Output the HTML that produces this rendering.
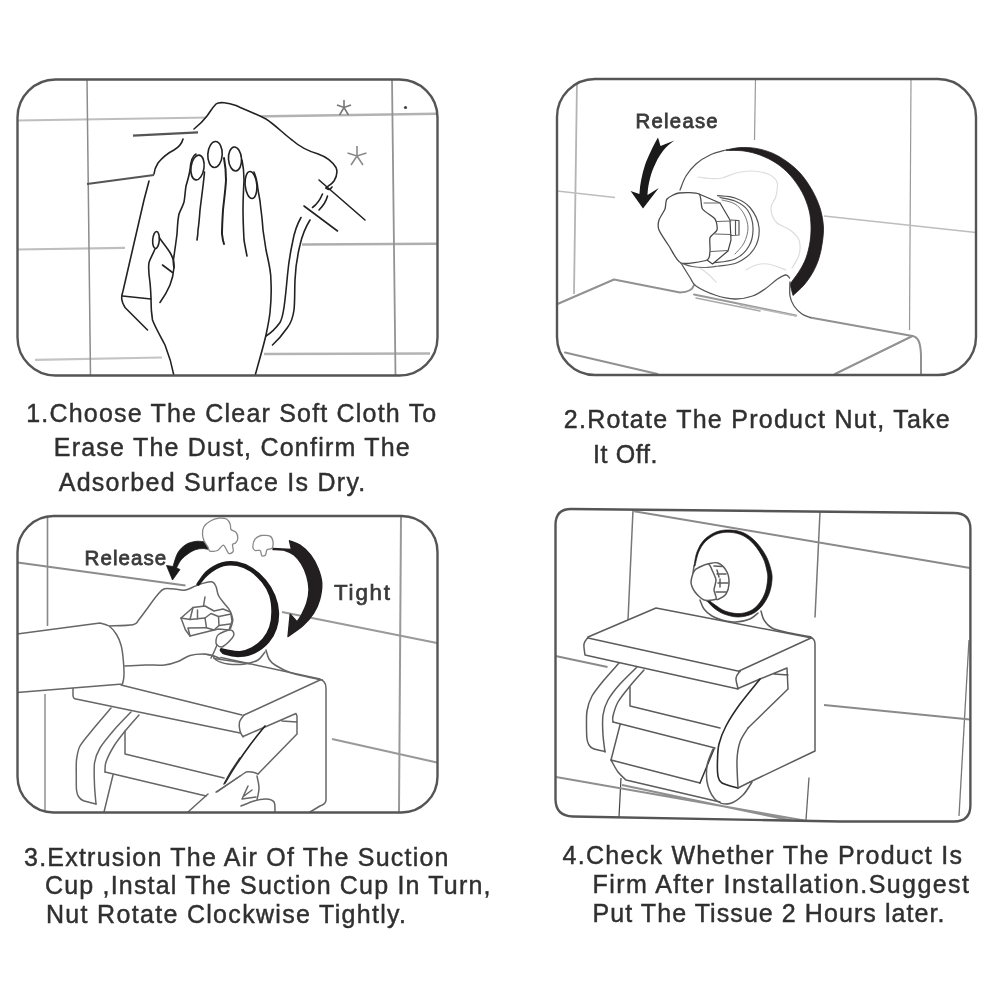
<!DOCTYPE html>
<html><head><meta charset="utf-8">
<style>
html,body{margin:0;padding:0;background:#fff;}
svg{display:block;filter:blur(0.6px);}
text{font-family:"Liberation Sans",sans-serif;fill:#303030;stroke:#303030;stroke-width:0.45;}
.t{font-size:25px;}
.fr{fill:none;stroke:#555;stroke-width:2.4;}
.tl{fill:none;stroke:#bdbdbd;stroke-width:1.6;}
.tv{fill:none;stroke:#999;stroke-width:1.2;}
.k{fill:none;stroke:#222;stroke-width:1.6;stroke-linecap:round;stroke-linejoin:round;}
.kw{fill:#fff;stroke:#222;stroke-width:1.3;stroke-linecap:round;stroke-linejoin:round;}
.g{fill:none;stroke:#777;stroke-width:1.5;stroke-linecap:round;stroke-linejoin:round;}
.gw{fill:#fff;stroke:#777;stroke-width:1.5;stroke-linecap:round;stroke-linejoin:round;}
.g2{fill:none;stroke:#919191;stroke-width:2;stroke-linecap:round;stroke-linejoin:round;}
.lg{fill:none;stroke:#ddd;stroke-width:1.2;stroke-linecap:round;stroke-linejoin:round;}
</style></head><body>
<svg width="1000" height="1000" viewBox="0 0 1000 1000">
<rect width="1000" height="1000" fill="#fff"/>

<!-- ================= PANEL 1 ================= -->
<g id="p1">
<clipPath id="c1"><rect x="17.5" y="79.5" width="420" height="296" rx="38"/></clipPath>
<g clip-path="url(#c1)">
<!--P1-CONTENT-->
<path class="tl" style="stroke:#bebebe;stroke-width:2.2" d="M17 120.5 L210 117.5"/><path class="tl" style="stroke:#b2b2b2;stroke-width:2.6" d="M250 116.5 L437 113.8"/>
<path class="tl" style="stroke:#bebebe;stroke-width:2.2" d="M17 249.5 L125 247.8"/><path class="tl" style="stroke:#aeaeae;stroke-width:2.6" d="M302 244.5 L437 243.8"/>
<path class="tl" style="stroke:#c4c4c4;stroke-width:2.2" d="M35 359.8 L162 357.5"/><path class="tl" style="stroke:#b4b4b4;stroke-width:2.6" d="M264 354 L430 353.5"/>
<path class="tv" style="stroke:#8c8c8c;stroke-width:1.5" d="M87 79 L90.5 376"/>
<path class="tv" style="stroke:#939393;stroke-width:1.8" d="M392 79 L395.5 376"/>
<!-- stars + dot -->
<path d="M344 100 L344 107.5 M337 105 L344 107.5 L351 105 M339.5 115 L344 107.5 L348.5 115" fill="none" stroke="#777" stroke-width="1.6"/>
<path d="M357 146 L357 156 M347.5 153 L357 156 L366.5 153 M351 165 L357 156 L363 165" fill="none" stroke="#8a8a8a" stroke-width="1.6"/>
<circle cx="405.5" cy="107.5" r="1.6" fill="#444"/>
<!-- cloth white fill -->
<path fill="#fff" stroke="none" d="M183 139 L178 147 L166 155 L158 163 L154 172 L154 176 L149 181 L144 200 L122.5 292.5 L121 300 L125 307.5 L147.5 330 L165 345 L174 376 L255 376 L266 336 L272.5 345 L287.5 327.5 L294 310 L295 280 L300 245 L310 220 L322 205 L336 175 L336 167.5 L330 160 L317.5 153.75 L300 147.5 L282.5 132.5 L262.5 117.5 L237.5 106 L224 102.4 L216 104 L211 112 L204 120 L194 129 L198 132.4 Z"/>
<!-- dark gray wall lines -->
<path d="M87 184 L154 175" fill="none" stroke="#555" stroke-width="2.2"/>
<path d="M133 135.6 L198 132.4" fill="none" stroke="#555" stroke-width="2.2"/>
<!-- cloth top outline -->
<path class="k" d="M194 129 C199 125 204 120 207 116 C210 112 212 108 216 104 C219 101.500 228 102.500 236 105.600 C244 109 254 113 266 119 C274 124 284 134 292 140 C300 147 308 151 317.500 153.750 C324 156 332 161 336 167.500 C337.500 171 337 176 334 181 C332 184 328 186 326 188"/>
<!-- cloth left upper -->
<path class="k" d="M183 139 C182 143 179 147 174 150 C168 153 162 158 158 163 C156 166 154.500 170 154 174"/>
<!-- cloth left edge -->
<path class="k" d="M149 181 L144 200 L123 291 C121 297 121 301 125 307.500 L147.500 330"/>
<path class="k" d="M122.500 296 L151 299"/>
<!-- right sticks -->
<path class="k" d="M319 180 L365 220"/>
<path class="k" d="M304 206 L337.500 231"/>
<path class="k" d="M322.500 194 C320 200 316 205 312.500 207.500"/>
<path class="k" d="M327.500 196 C326 202 322 207 319 210"/>
<path class="k" d="M326 188 C328 190 330 190 332 187"/>
<!-- drape lines -->
<path class="k" d="M301 217.500 C296 226 294 234 292.500 242.500 C290 254 288.500 264 287.500 275 C286.500 286 285.500 297 284 307.500 C283 314 282 319 280 322.500 C276 328 271 333 266 336"/>
<path class="k" d="M310 220 C305 228 302 236 300 245 C297 257 295.500 268 295 280 C294.500 291 295 301 294 310 C293 317 291 323 287.500 327.500 C283 334 278 340 272.500 345"/>
<!-- hand -->
<!-- index finger left edge / hand left side -->
<path class="k" d="M196 154 C192 156 190.500 163 190 170 C189 176 187.500 181 186 186 C185 192 185 197 184 202 C182.500 207 180.500 210 179 214 C177.500 221 177.500 227 177 234 C176 242 175 249 174 256 C173 261 173 264 174 267.500"/>
<!-- index nail -->
<ellipse class="k" cx="197.500" cy="167.500" rx="6.500" ry="12.500" transform="rotate(8 197.500 167.500)"/>
<!-- index/middle gap -->
<path class="k" d="M204.500 172 C204 178 203.500 182 203 186 C202 194 201 202 200 210 C199.500 217 199 224 198 230 C198 234 197.500 237 197 240"/>
<!-- middle nail -->
<ellipse class="k" cx="215" cy="154.500" rx="7.200" ry="13" transform="rotate(3 215 154.500)"/>
<!-- middle/ring gap (dark) -->
<path class="k" style="stroke-width:2" d="M224 158 C225.500 166 226 173 226 180 C225.500 190 224 200 223 210 C222.500 218 222 226 222 234 C222.500 238 223 241 224 244"/>
<!-- ring nail -->
<ellipse class="k" cx="235" cy="159" rx="6.500" ry="12" transform="rotate(-4 235 159)"/>
<!-- ring/pinky gap -->
<path class="k" d="M242 160 C243.500 167 244 173 244 180 C243.500 190 243 200 243 210 C243 220 243.500 230 244 240 C245 246 246 251 247 256"/>
<!-- pinky nail -->
<ellipse class="k" cx="251" cy="185" rx="5.800" ry="13.500" transform="rotate(-5 251 185)"/>
<!-- pinky right side + hand right edge + wrist -->
<path class="k" d="M254 172 C256.500 178 257.500 184 258 190 C259.500 197 260.500 203 261 210 C262 217 262.500 223 263 230 C264 237 265 243 266 250 C267.500 257 269 263 270 270 C271 275 271 279 271 282.500 C271.500 293 271 303 270 312.500 C269 321 267.500 328 266 335 C263 348 259 361 255 376"/>
<!-- thumb -->
<ellipse class="k" cx="156" cy="240" rx="3.300" ry="8.500" transform="rotate(4 156 240)"/>
<path class="k" d="M159.500 238 C163 243 167 247.500 170 252.500 C173 257.500 174.500 262 174 267.500 C173.500 274 172 280 170 285 C167.500 291 164 297 160 302.500"/>
<path class="k" d="M155 249 C153 254 150.500 258 149 262.500 C148 269 149 276 150 282.500 C150.500 288 151 294 151 300 C151 307 151.500 314 152.500 320 C156 329 161 337 165 345 C169 355 172 365 174 376"/>
<path class="k" d="M162.500 265 L172.500 272.500"/>
<!--/P1-->
</g>
<rect class="fr" x="17.5" y="79.5" width="420" height="296" rx="38"/>
</g>

<!-- ================= PANEL 2 ================= -->
<g id="p2">
<clipPath id="c2"><rect x="557" y="79" width="419" height="296" rx="38"/></clipPath>
<g clip-path="url(#c2)">
<!--P2-CONTENT-->
<path class="tv" style="stroke:#b4b4b4;stroke-width:1.8" d="M577 80 L574 294"/>
<path class="tv" d="M755.5 79 L754.5 140"/>
<path class="tv" d="M911 79 L909.5 330"/>
<path class="tl" style="stroke-width:1.3" d="M557 191 L615 197.5"/>
<path class="tl" style="stroke-width:1.3" d="M824 216 L976 232.5"/>
<path class="g2" d="M557.5 304 L614 279.5 L680 292.5 Q692 292 694 285"/>
<path class="g2" d="M565 352.5 L657.5 374"/>
<path class="g2" style="stroke:#999" d="M694 294.5 L796 315.5"/>
<path class="g" style="stroke:#aaa" d="M696 298 L760 311"/>
<path class="g2" d="M810 317.5 L912.5 336 C918 337 920.5 342 921 355 L921 376"/>
<path class="g2" d="M912.5 336 L835 374"/>
<path class="g" style="stroke:#555;stroke-width:1.3" d="M726.0 150.0 C723.3 150.8 715.0 152.7 710.0 155.0 C705.0 157.3 700.0 160.5 696.0 164.0 C692.0 167.5 688.7 171.7 686.0 176.0 C683.3 180.3 681.0 187.7 680.0 190.0"/>
<path class="lg" d="M698.0 177.0 C700.0 177.2 706.0 178.3 710.0 178.5 C714.0 178.7 717.7 178.9 722.0 178.0 C726.3 177.1 731.0 174.2 736.0 173.0 C741.0 171.8 746.7 170.8 752.0 171.0 C757.3 171.2 763.8 172.2 768.0 174.0 C772.2 175.8 775.7 178.3 777.0 182.0 C778.3 185.7 777.0 191.7 776.0 196.0 C775.0 200.3 771.0 203.7 771.0 208.0 C771.0 212.3 772.8 218.3 776.0 222.0 C779.2 225.7 786.2 227.0 790.0 230.0 C793.8 233.0 797.5 235.8 799.0 240.0 C800.5 244.2 800.2 250.3 799.0 255.0 C797.8 259.7 793.2 265.8 792.0 268.0"/>
<path class="lg" d="M746.0 270.0 C747.7 269.2 752.3 266.0 756.0 265.0 C759.7 264.0 763.0 263.2 768.0 264.0 C773.0 264.8 783.0 269.0 786.0 270.0"/>
<path class="lg" d="M700.0 268.0 C701.3 269.0 705.3 271.7 708.0 274.0 C710.7 276.3 714.7 280.7 716.0 282.0"/>
<path fill="#231f20" stroke="#231f20" stroke-width="0.8" stroke-linejoin="round" d="M726.0 150.0 C728.3 149.6 735.0 147.9 740.0 147.6 C745.0 147.3 750.7 147.5 756.0 148.4 C761.3 149.3 767.0 150.9 772.0 153.0 C777.0 155.1 781.3 157.7 786.0 161.0 C790.7 164.3 795.7 168.2 800.0 173.0 C804.3 177.8 808.7 184.2 812.0 190.0 C815.3 195.8 818.1 202.0 820.0 208.0 C821.9 214.0 823.0 220.3 823.4 226.0 C823.8 231.7 823.1 236.7 822.4 242.0 C821.7 247.3 820.6 253.0 819.0 258.0 C817.4 263.0 815.5 267.5 813.0 272.0 C810.5 276.5 807.3 281.1 804.0 285.0 C800.7 288.9 794.8 293.8 793.0 295.5 L790.0 284.0 C790.5 283.3 791.3 282.3 793.0 280.0 C794.7 277.7 797.8 273.7 800.0 270.0 C802.2 266.3 804.3 262.7 806.0 258.0 C807.7 253.3 809.2 247.3 810.0 242.0 C810.8 236.7 811.2 231.3 811.0 226.0 C810.8 220.7 810.5 215.7 809.0 210.0 C807.5 204.3 805.2 197.8 802.0 192.0 C798.8 186.2 794.3 179.8 790.0 175.0 C785.7 170.2 781.0 166.3 776.0 163.0 C771.0 159.7 765.3 157.0 760.0 155.0 C754.7 153.0 749.5 151.8 744.0 151.0 C738.5 150.2 729.8 150.5 727.0 150.4 Z"/>
<path class="g" style="stroke:#555;stroke-width:1.3" d="M681.0 263.0 C682.5 265.4 687.5 273.7 690.0 277.5 C692.5 281.3 691.8 283.1 696.0 286.0 C700.2 288.9 708.5 292.8 715.0 295.0 C721.5 297.2 728.8 298.8 735.0 299.0 C741.2 299.2 747.5 297.7 752.5 296.0 C757.5 294.3 760.8 291.8 765.0 289.0 C769.2 286.2 774.0 281.3 777.5 279.0 C781.0 276.7 784.0 275.2 786.0 275.0 C788.0 274.8 788.9 277.5 789.5 278.0"/>
<path class="g" style="stroke:#555;stroke-width:1.3" d="M790.0 282.0 C790.0 284.3 789.3 292.0 790.0 296.0 C790.7 300.0 792.0 303.0 794.0 306.0 C796.0 309.0 799.3 312.1 802.0 314.0 C804.7 315.9 808.7 316.9 810.0 317.5"/>
<path class="g" style="stroke:#bbb" d="M740 305 L796 316"/>
<path class="g" style="stroke:#555;stroke-width:1.2" d="M717.5 195.6 C720.4 196.0 729.6 196.0 735.0 198.0 C740.4 200.0 746.0 202.6 750.0 207.5 C754.0 212.4 758.3 220.6 759.0 227.5 C759.7 234.4 757.6 243.2 754.0 249.0 C750.4 254.8 743.3 259.7 737.5 262.5 C731.7 265.3 722.1 265.4 719.0 266.0"/>
<path class="g" style="stroke:#555;stroke-width:1.2" d="M720.0 197.5 C722.5 198.1 730.4 198.9 735.0 201.0 C739.6 203.1 744.5 205.6 747.5 210.0 C750.5 214.4 752.8 221.5 753.0 227.5 C753.2 233.5 752.0 240.8 749.0 246.0 C746.0 251.2 741.1 256.2 735.0 259.0 C728.9 261.8 716.2 262.3 712.5 263.0"/>
<path class="g" style="stroke:#777;stroke-width:1" d="M722.0 200.0 C724.2 200.7 731.3 201.7 735.0 204.0 C738.7 206.3 741.8 210.0 744.0 214.0 C746.2 218.0 748.0 223.2 748.0 228.0 C748.0 232.8 746.2 238.7 744.0 243.0 C741.8 247.3 736.5 252.2 735.0 254.0"/>
<path class="g" style="stroke:#666;stroke-width:1.2" d="M681.0 263.0 C682.8 263.6 687.8 265.8 692.0 266.5 C696.2 267.2 701.5 267.6 706.0 267.5 C710.5 267.4 716.8 266.2 719.0 266.0"/>
<path class="gw" style="stroke:#444;stroke-width:1.2" d="M699 194 L720 203 L730 220 L731 240 L728 251 L712.5 264 L707 260 Z"/>
<path class="g" style="stroke:#555;stroke-width:1.2" d="M731 220 L739 220.5 L739 235 L731 235.5 M735.5 220.5 L735.5 235"/>
<path class="g" style="stroke:#666;stroke-width:1.2" d="M704 203 L720 203 M717 221.5 L731 221 M715 234 L731 234.5 M711 251.5 L728 250.5"/>
<path class="kw" style="stroke:#4a4a4a;stroke-width:1.3" d="M667.0 199.0 C668.6 197.1 675.3 193.6 679.0 193.0 C682.7 192.4 696.3 192.1 699.0 194.0 C701.7 195.9 700.6 206.1 702.5 209.0 C704.4 211.9 713.3 216.6 715.0 219.0 C716.7 221.4 717.6 227.8 717.0 230.0 C716.4 232.2 710.8 235.1 710.0 237.5 C709.2 239.9 710.4 248.4 710.0 251.0 C709.6 253.6 710.4 258.6 707.0 260.0 C703.6 261.4 685.4 264.6 681.0 263.0 C676.6 261.4 671.6 249.8 669.0 246.0 C666.4 242.2 660.2 233.0 659.0 230.0 C657.8 227.0 658.3 222.4 659.0 220.0 C659.7 217.6 664.1 211.4 665.0 209.0 C665.9 206.6 665.4 200.9 667.0 199.0 Z"/>
<path fill="#1a1a1a" d="M658 137.5 C653 146 648 157 645 165 C642 174 640 184 639.4 194 L630.6 191 L643 208.5 L658.75 188 L647.5 195 C648 184 651 172 656 162.5 C660 154 666 146 674.4 140.6 L660.5 146 Z"/>
<text x="635.6" y="128.3" font-size="20.3" textLength="82" lengthAdjust="spacing" style="fill:#3a3a3a;stroke:#3a3a3a;stroke-width:0.8">Release</text>
<!--/P2-->
</g>
<rect class="fr" x="557" y="79" width="419" height="296" rx="38"/>
</g>

<!-- ================= PANEL 3 ================= -->
<g id="p3">
<clipPath id="c3"><rect x="17.5" y="516" width="420" height="296.5" rx="36"/></clipPath>
<g clip-path="url(#c3)">
<!--P3-CONTENT-->
<path class="tv" style="stroke:#888;stroke-width:1.6" d="M47.5 516 L47.5 626"/>
<path class="tv" style="stroke:#888;stroke-width:1.4" d="M45 694 L45 812"/>
<path class="tv" style="stroke:#999;stroke-width:2" d="M401 516 L399 812"/>
<path class="tl" style="stroke:#8c8c8c;stroke-width:2.2" d="M17.5 562.5 L185.5 585.5"/>
<path class="tl" style="stroke:#999;stroke-width:2.2" d="M282 612 L437 643"/>
<path class="tl" style="stroke:#999;stroke-width:2.2" d="M332 739 L437 762.5"/>
<path class="g" style="stroke:#666;stroke-width:1.5" d="M200 653 L320 679"/>
<path class="g" style="stroke:#666;stroke-width:1.5" d="M214 658.5 L250 663.75"/>
<path class="g" style="stroke:#666;stroke-width:1.5" d="M320 680 L244 715"/>
<path class="g" style="stroke:#666;stroke-width:1.5" d="M318 679 Q326 680 326 688 L326 800 Q326 804 320 806 L310 812"/>
<path class="g" style="stroke:#666;stroke-width:1.5" d="M73 687 L73 696 Q73.5 699 76 699 L240 733 M121 685 L242 715"/>
<path class="g" style="stroke:#666;stroke-width:1.5" d="M244.0 715.0 C243.2 716.2 240.2 719.3 239.5 722.0 C238.8 724.7 239.4 728.5 240.0 731.0 C240.6 733.5 242.5 736.0 243.0 737.0"/>
<path class="g" style="stroke:#666;stroke-width:1.5" d="M243 736.5 L265 727 L296 713.5 L297 716 L297 734 L258 774 M282 721 L297 722"/>
<path class="k" style="stroke:#222;stroke-width:1.6" d="M265.0 726.0 C262.5 729.2 254.8 738.5 250.0 745.0 C245.2 751.5 240.2 758.7 236.0 765.0 C231.8 771.3 226.8 780.0 225.0 783.0"/>
<path class="g" style="stroke:#666;stroke-width:1.5" d="M258 774 Q252 771 246 772 L217 792"/>
<path class="g" style="stroke:#666;stroke-width:1.5" d="M257.0 776.0 C257.3 778.0 259.0 784.0 259.0 788.0 C259.0 792.0 257.3 798.0 257.0 800.0"/>
<path class="g" style="stroke:#666;stroke-width:1.5" d="M248 786 L242 799 L256 797 M244 796 L252 790"/>
<path class="g" style="stroke:#666;stroke-width:1.5" d="M241.0 806.0 C243.2 805.2 249.8 802.2 254.0 801.0 C258.2 799.8 262.7 798.8 266.0 799.0 C269.3 799.2 272.5 799.8 274.0 802.0 C275.5 804.2 274.8 810.3 275.0 812.0"/>
<path class="g" style="stroke:#666;stroke-width:1.5" d="M111.0 708.0 C108.7 710.7 98.1 722.9 94.0 728.0 C89.9 733.1 82.3 741.7 80.0 746.0 C77.7 750.3 77.0 756.0 76.5 760.0 C76.0 764.0 76.3 772.0 76.3 776.0 C76.3 780.0 76.2 787.3 76.5 790.0 C76.8 792.7 77.6 795.1 78.5 796.5 C79.4 797.9 80.7 799.5 83.0 800.5 C85.3 801.5 94.3 803.5 96.0 804.0"/>
<path class="g" style="stroke:#666;stroke-width:1.5" d="M131.0 712.0 C128.7 714.4 118.1 725.2 114.0 730.0 C109.9 734.8 102.6 743.6 100.0 748.0 C97.4 752.4 95.2 758.1 94.5 763.0 C93.8 767.9 94.3 779.5 94.5 785.0 C94.7 790.5 95.8 801.5 96.0 804.0"/>
<path class="g" style="stroke:#666;stroke-width:1.5" d="M139.0 715.0 C136.8 717.5 130.2 724.8 126.0 730.0 C121.8 735.2 117.3 740.7 114.0 746.0 C110.7 751.3 107.5 757.7 106.0 762.0 C104.5 766.3 105.2 770.3 105.0 772.0"/>
<path class="g" style="stroke:#666;stroke-width:1.5" d="M105 772 L206 796 M113 775 L104 812"/>
<path class="g" style="stroke:#666;stroke-width:1.5" d="M125 731 L125 754 L224 778"/>
<path class="k" style="stroke:#333;stroke-width:1.5" d="M240.0 758.0 C238.7 760.0 234.7 765.7 232.0 770.0 C229.3 774.3 225.3 781.7 224.0 784.0"/>
<path class="g" style="stroke:#666;stroke-width:1.5" d="M240 776 L216 792 M208 794 L188 812"/>
<path class="g" style="stroke:#666;stroke-width:1.5" d="M266.0 650.0 C266.5 651.5 267.5 656.5 269.0 659.0 C270.5 661.5 271.5 662.8 275.0 665.0 C278.5 667.2 284.2 670.4 290.0 672.5 C295.8 674.6 304.6 676.2 310.0 677.5 C315.4 678.8 320.4 679.6 322.5 680.0"/>
<path class="g" style="stroke:#666;stroke-width:1.5" d="M212.0 653.0 C212.7 654.2 213.3 658.2 216.0 660.0 C218.7 661.8 223.2 663.3 228.0 664.0 C232.8 664.7 240.0 664.7 245.0 664.0 C250.0 663.3 254.7 662.0 258.0 660.0 C261.3 658.0 263.8 653.3 265.0 652.0"/>
<path fill="#fff" stroke="none" d="M109.0 626.0 L133.0 624.8 L139.0 619.5 L148.0 607.5 L157.0 595.5 L164.5 588.8 L178.0 589.5 L185.5 590.0 L196.0 585.8 L205.0 582.8 L212.5 582.0 L216.0 586.5 L218.5 595.5 L224.5 603.8 L229.8 610.5 L232.8 619.5 L230.5 628.5 L233.0 636.0 L223.0 647.0 L220.0 658.5 L214.0 656.0 L205.0 654.0 L190.0 655.5 L178.0 661.5 L164.5 665.0 L145.0 665.0 L124.8 666.0 Z"/>
<path class="g" style="stroke:#666;stroke-width:1.5" d="M109.0 626.0 C113.0 625.8 128.0 625.8 133.0 624.8 C138.0 623.7 136.5 622.4 139.0 619.5 C141.5 616.6 145.0 611.5 148.0 607.5 C151.0 603.5 154.2 598.6 157.0 595.5 C159.8 592.4 161.0 589.8 164.5 588.8 C168.0 587.8 174.5 589.3 178.0 589.5 C181.5 589.7 182.5 590.6 185.5 590.0 C188.5 589.4 192.8 587.0 196.0 585.8 C199.2 584.5 202.2 583.4 205.0 582.8 C207.8 582.1 210.7 581.4 212.5 582.0 C214.3 582.6 215.0 584.2 216.0 586.5 C217.0 588.8 217.1 592.6 218.5 595.5 C219.9 598.4 222.6 601.2 224.5 603.8 C226.4 606.2 228.4 607.9 229.8 610.5 C231.1 613.1 232.6 616.5 232.8 619.5 C232.9 622.5 230.9 627.0 230.5 628.5"/>
<path class="g" style="stroke:#666;stroke-width:1.5" d="M220.0 658.5 C219.0 658.1 216.5 656.8 214.0 656.0 C211.5 655.2 209.0 654.1 205.0 654.0 C201.0 653.9 194.5 654.2 190.0 655.5 C185.5 656.8 182.2 659.9 178.0 661.5 C173.8 663.1 170.0 664.4 164.5 665.0 C159.0 665.6 151.6 664.8 145.0 665.0 C138.4 665.2 128.1 665.8 124.8 666.0"/>
<path class="gw" style="stroke:#666;stroke-width:1.5" d="M218.5 634.5 C220.9 632.8 228.0 629.8 230.5 630.0 C233.0 630.2 234.8 633.2 233.5 636.0 C232.2 638.8 225.8 645.0 223.0 646.5 C220.2 648.0 218.2 646.0 217.0 645.0 C215.8 644.0 215.8 642.2 216.0 640.5 C216.2 638.8 216.1 636.2 218.5 634.5 Z"/>
<path class="g" style="stroke:#666;stroke-width:1.5" d="M217.0 645.0 C216.5 646.2 215.0 649.8 214.0 652.0 C213.0 654.2 211.5 657.0 211.0 658.0"/>
<path class="gw" style="stroke:#666;stroke-width:1.5" d="M181.0 618.0 L193.0 607.5 L205.0 606.0 L214.0 611.0 L223.0 609.0 L230.5 612.0 L232.0 621.0 L229.0 630.0 L218.5 629.0 L208.0 631.5 L190.0 636.0 L185.5 630.0 Z"/>
<path class="g" style="stroke:#666;stroke-width:1.5" d="M205.0 618.0 L211.0 613.5 L218.5 616.5 L219.0 625.5 L214.0 630.0 L206.5 627.8 Z"/>
<path class="g" style="stroke:#666;stroke-width:1.5" d="M193 607.5 L190 619.5 L181 618 M190 619.5 L205 618 M197.5 610 L197.5 619 M205 597 L203.5 606 M219 616.5 L231 614 M219 625.5 L230 624 M190 636 L188 628 L206.5 627.75"/>
<path class="gw" style="stroke:#666;stroke-width:1.5" d="M17 634 L100 623 100.0 623.0 C101.5 623.5 106.2 624.1 109.0 626.0 C111.8 627.9 114.5 631.3 116.5 634.5 C118.5 637.7 119.9 641.2 121.0 645.0 C122.1 648.8 122.5 652.0 123.0 657.0 C123.5 662.0 124.1 670.5 124.0 675.0 C123.9 679.5 122.8 682.5 122.5 684.0 L17 692.5 Z"/>
<path fill="#1c1a1a" stroke="#1c1a1a" stroke-width="1.8" stroke-linejoin="round" d="M197.2 584.2 C198.9 582.1 202.9 575.0 207.0 571.5 C211.1 568.0 217.0 564.8 222.0 563.2 C227.0 561.8 232.0 561.6 237.0 562.5 C242.0 563.4 247.2 565.5 252.0 568.5 C256.8 571.5 261.8 576.0 265.5 580.5 C269.2 585.0 272.4 590.2 274.5 595.5 C276.6 600.8 278.0 606.5 278.2 612.0 C278.5 617.5 277.6 623.5 276.0 628.5 C274.4 633.5 272.0 638.0 268.5 642.0 C265.0 646.0 259.8 650.1 255.0 652.5 C250.2 654.9 245.0 656.0 240.0 656.2 C235.0 656.5 228.2 655.0 225.0 654.0 C221.8 653.0 221.2 650.9 220.5 650.2 L221.0 649.0 C221.9 649.2 223.3 649.8 226.5 650.2 C229.7 650.7 235.8 652.1 240.0 651.8 C244.2 651.4 248.1 650.1 252.0 648.0 C255.9 645.9 260.2 642.5 263.2 639.0 C266.2 635.5 268.5 631.5 270.0 627.0 C271.5 622.5 272.2 617.2 272.2 612.0 C272.2 606.8 271.6 600.5 270.0 595.5 C268.4 590.5 265.8 586.1 262.5 582.0 C259.2 577.9 254.8 573.5 250.5 570.8 C246.2 568.0 241.5 566.1 237.0 565.2 C232.5 564.3 228.2 564.1 223.5 565.5 C218.8 566.9 212.7 570.5 208.5 573.8 C204.3 577.0 200.2 583.1 198.5 585.0 Z"/>
<path fill="#231f20" stroke="#231f20" stroke-width="1.4" stroke-linejoin="round" d="M289.5 540.8 C291.2 541.5 296.5 542.9 300.0 545.2 C303.5 547.6 307.5 551.1 310.5 555.0 C313.5 558.9 316.1 563.8 318.0 568.5 C319.9 573.2 321.5 578.2 321.8 583.5 C322.0 588.8 320.9 595.0 319.5 600.0 C318.1 605.0 316.2 609.2 313.5 613.5 C310.8 617.8 307.2 621.7 303.0 625.5 C298.8 629.3 290.5 634.7 288.0 636.5 L290.2 614.2 L297.0 621.8 L297.0 621.8 C297.8 620.6 299.9 618.1 301.5 615.0 C303.1 611.9 305.5 607.2 306.8 603.0 C308.0 598.8 309.0 594.0 309.0 589.5 C309.0 585.0 308.0 580.2 306.8 576.0 C305.5 571.8 303.6 567.5 301.5 564.0 C299.4 560.5 296.8 557.2 294.0 555.0 C291.2 552.8 288.5 551.4 285.0 550.5 C281.5 549.6 275.0 549.7 273.0 549.5 L273.0 548.5 L291.5 549.5 Z"/>
<path fill="#1a1a1a" stroke="#1a1a1a" stroke-width="0.8" stroke-linejoin="round" d="M214.0 544.5 C212.3 544.0 207.2 542.3 204.0 541.8 C200.8 541.3 198.0 541.0 195.0 541.5 C192.0 542.0 188.8 542.7 186.0 544.5 C183.2 546.3 180.2 548.8 178.0 552.5 C175.8 556.2 173.8 564.2 173.0 566.5 L166.5 565.5 L172.5 580.0 L180.0 569.5 L176.5 568.0 C177.2 566.7 179.0 562.4 181.0 560.0 C183.0 557.6 186.0 555.2 188.5 553.5 C191.0 551.8 193.4 550.3 196.0 549.5 C198.6 548.7 201.0 548.4 204.0 548.6 C207.0 548.9 212.3 550.6 214.0 551.0 Z"/>
<path class="gw" style="stroke:#888;stroke-width:1.3" d="M202.5 534.0 C202.5 532.1 203.0 528.2 204.0 526.5 C205.0 524.8 208.0 522.4 210.0 521.2 C212.0 520.1 216.8 518.5 219.0 518.2 C221.2 518.0 225.0 518.2 226.5 519.0 C228.0 519.8 229.7 522.9 230.2 524.2 C230.8 525.6 230.2 528.4 231.0 529.5 C231.8 530.6 235.3 531.3 236.2 532.5 C237.2 533.7 237.8 537.1 237.8 538.5 C237.7 539.9 236.2 542.2 235.5 543.0 C234.8 543.8 232.8 543.4 232.5 544.5 C232.2 545.6 233.8 550.0 233.2 551.2 C232.8 552.5 230.1 554.3 228.8 553.5 C227.4 552.7 225.0 545.6 223.5 545.2 C222.0 544.9 219.3 549.7 217.5 550.5 C215.7 551.3 211.3 551.8 210.0 551.2 C208.7 550.8 208.6 548.1 207.8 546.8 C206.9 545.4 204.7 542.5 204.0 540.8 C203.3 539.0 202.5 535.9 202.5 534.0 Z"/>
<path class="gw" style="stroke:#888;stroke-width:1.3" d="M252.8 546.8 C252.8 545.2 253.9 540.8 255.0 539.2 C256.1 537.8 259.0 535.9 261.0 535.5 C263.0 535.1 268.4 535.5 270.0 536.2 C271.6 537.0 272.7 539.9 273.0 541.5 C273.3 543.1 273.1 547.1 272.2 548.2 C271.4 549.4 267.9 548.9 267.0 549.8 C266.1 550.6 266.2 554.2 265.5 555.0 C264.8 555.8 262.4 556.4 261.8 555.8 C261.1 555.1 261.1 551.2 260.2 550.5 C259.4 549.8 256.0 551.0 255.0 550.5 C254.0 550.0 252.8 548.2 252.8 546.8 Z"/>
<text x="84.6" y="564.6" font-size="20.5" textLength="81.5" lengthAdjust="spacing" style="fill:#3a3a3a;stroke:#3a3a3a;stroke-width:0.8">Release</text>
<text x="334" y="599.6" font-size="22.3" textLength="56" lengthAdjust="spacing" style="fill:#3a3a3a;stroke:#3a3a3a;stroke-width:0.7">Tight</text>
<!--/P3-->
</g>
<rect class="fr" x="17.5" y="516" width="420" height="296.5" rx="36"/>
</g>

<!-- ================= PANEL 4 ================= -->
<g id="p4">
<clipPath id="c4"><path d="M555.5 525 Q555.5 509 571 509 L954 513 Q970.4 513 970.4 529 L970.4 805 Q970.4 821.5 954 821.5 L840 821.5 L573 816.5 Q555.5 816 555.5 799 Z"/></clipPath>
<g clip-path="url(#c4)">
<!--P4-CONTENT-->
<path class="tv" style="stroke:#777;stroke-width:1.5" d="M633 510 L628 620"/>
<path class="tv" style="stroke:#777;stroke-width:1.5" d="M820 512 L815 617.5"/>
<path class="tv" style="stroke:#777;stroke-width:1.3" d="M969 640 L959 816"/>
<path class="tv" style="stroke:#666;stroke-width:1.3" d="M809 777.5 L806 820"/>
<path class="tv" style="stroke:#444;stroke-width:1.2" d="M621 778 L619 817"/>
<path class="tl" style="stroke:#8a8a8a;stroke-width:2" d="M634 511.2 L970 568"/>
<path class="tl" style="stroke:#8a8a8a;stroke-width:2" d="M555.5 656 L607.5 667"/>
<path class="tl" style="stroke:#8a8a8a;stroke-width:2" d="M824 705 L970 719.5"/>
<path class="tl" style="stroke:#8f8f8f;stroke-width:2" d="M556 777 L830 825 M622 785 L830 828.7"/>
<path class="g" style="stroke:#5c5c5c;stroke-width:1.5" d="M700.0 600.0 C700.7 601.5 702.0 606.3 704.0 609.0 C706.0 611.7 709.0 614.2 712.0 616.0 C715.0 617.8 718.0 619.0 722.0 620.0 C726.0 621.0 731.3 622.2 736.0 622.0 C740.7 621.8 746.3 620.5 750.0 619.0 C753.7 617.5 756.7 614.0 758.0 613.0"/>
<path class="g" style="stroke:#5c5c5c;stroke-width:1.5" d="M761.0 611.0 C761.5 612.5 762.2 617.2 764.0 620.0 C765.8 622.8 767.7 625.8 772.0 628.0 C776.3 630.2 783.5 631.5 790.0 633.0 C796.5 634.5 807.5 636.3 811.0 637.0"/>
<path class="g" style="stroke:#5c5c5c;stroke-width:1.5" d="M656 608 L812 638 M656 608 L588 637 M811 638 L739 671"/>
<path class="g" style="stroke:#5c5c5c;stroke-width:1.5" d="M809 637 Q815 638 815 644 L815 751 L750 782"/>
<path class="g" style="stroke:#5c5c5c;stroke-width:1.5" d="M588.0 637.5 C587.3 638.6 584.5 641.1 584.0 644.0 C583.5 646.9 584.8 653.2 585.0 655.0 L738 689"/>
<path class="g" style="stroke:#5c5c5c;stroke-width:1.5" d="M588 638 L740 671.500"/>
<path class="g" style="stroke:#5c5c5c;stroke-width:1.5" d="M740.0 671.0 C739.3 672.2 736.3 675.1 736.0 678.0 C735.7 680.9 737.7 686.8 738.0 688.5"/>
<path class="g" style="stroke:#5c5c5c;stroke-width:1.5" d="M738 688.500 L760 679 L787 668 L788 689 L748 728 M774 674 L788 675"/>
<path class="g" style="stroke:#5c5c5c;stroke-width:1.5" d="M748.0 728.0 C746.7 730.3 741.8 736.7 740.0 742.0 C738.2 747.3 737.3 752.3 737.0 760.0 C736.7 767.7 737.8 783.3 738.0 788.0"/>
<path class="k" style="stroke:#2a2a2a;stroke-width:1.6" d="M760.0 679.0 C756.7 683.2 745.7 696.2 740.0 704.0 C734.3 711.8 729.5 719.3 726.0 726.0 C722.5 732.7 720.4 738.3 719.0 744.0 C717.6 749.7 717.7 754.7 717.5 760.0 C717.3 765.3 717.2 772.2 718.0 776.0 C718.8 779.8 718.7 781.0 722.0 783.0 C725.3 785.0 735.3 787.2 738.0 788.0"/>
<path class="g" style="stroke:#5c5c5c;stroke-width:1.5" d="M738 788 L750 782"/>
<path class="g" style="stroke:#5c5c5c;stroke-width:1.5" d="M619.0 663.0 C617.0 665.3 607.6 675.6 604.0 680.0 C600.4 684.4 594.3 691.9 592.0 696.0 C589.7 700.1 587.7 707.0 587.0 711.0 C586.3 715.0 586.5 722.3 586.5 726.0 C586.5 729.7 586.7 736.5 587.0 739.0 C587.3 741.5 588.2 743.7 589.0 745.0 C589.8 746.3 590.9 747.6 593.0 748.5 C595.1 749.4 603.4 751.1 605.0 751.5"/>
<path class="g" style="stroke:#5c5c5c;stroke-width:1.5" d="M637.0 667.0 C634.7 669.3 623.9 679.6 620.0 684.0 C616.1 688.4 610.3 695.9 608.0 700.0 C605.7 704.1 603.7 710.3 603.0 715.0 C602.3 719.7 602.7 730.1 603.0 735.0 C603.3 739.9 604.7 749.7 605.0 752.0"/>
<path class="g" style="stroke:#5c5c5c;stroke-width:1.5" d="M644.0 670.0 C641.7 672.7 634.3 680.7 630.0 686.0 C625.7 691.3 620.8 697.0 618.0 702.0 C615.2 707.0 613.8 712.7 613.0 716.0 C612.2 719.3 613.0 721.0 613.0 722.0"/>
<path class="g" style="stroke:#5c5c5c;stroke-width:1.5" d="M613 722 L715 748 M620 725 L611 760 L700 783"/>
<path class="g" style="stroke:#5c5c5c;stroke-width:1.5" d="M630 687 L630 706 L720 728"/>
<path class="k" style="stroke:#333;stroke-width:1.5" d="M700 783 L714 749"/>
<path class="g" style="stroke:#5c5c5c;stroke-width:1.5" d="M611.0 760.0 C612.2 762.0 615.5 768.7 618.0 772.0 C620.5 775.3 624.7 778.7 626.0 780.0 L720 802"/>
<path class="g" style="stroke:#5c5c5c;stroke-width:1.5" d="M713.0 749.0 C712.0 751.8 707.8 759.8 707.0 766.0 C706.2 772.2 706.3 780.2 708.0 786.0 C709.7 791.8 713.3 798.1 717.0 801.0 C720.7 803.9 725.7 804.5 730.0 803.5 C734.3 802.5 739.3 798.6 743.0 795.0 C746.7 791.4 750.5 784.2 752.0 782.0"/>
<path class="g" style="stroke:#5c5c5c;stroke-width:1.5" d="M707.0 601.0 C705.3 599.2 699.3 593.8 697.0 590.0 C694.7 586.2 693.5 582.0 693.0 578.0 C692.5 574.0 693.8 568.0 694.0 566.0"/>
<path fill="#1c1a1a" stroke="#1c1a1a" stroke-width="0.7" stroke-linejoin="round" d="M694.0 566.0 C694.5 563.7 695.3 556.3 697.0 552.0 C698.7 547.7 700.8 543.3 704.0 540.0 C707.2 536.7 711.7 533.7 716.0 532.0 C720.3 530.3 725.3 529.8 730.0 530.0 C734.7 530.2 739.7 531.0 744.0 533.0 C748.3 535.0 752.3 538.2 756.0 542.0 C759.7 545.8 763.5 551.3 766.0 556.0 C768.5 560.7 770.0 566.0 771.0 570.0 C772.0 574.0 772.3 576.0 772.0 580.0 C771.7 584.0 770.7 589.7 769.0 594.0 C767.3 598.3 764.8 602.7 762.0 606.0 C759.2 609.3 756.0 612.2 752.0 614.0 C748.0 615.8 742.7 617.0 738.0 617.0 C733.3 617.0 728.0 615.5 724.0 614.0 C720.0 612.5 716.8 610.2 714.0 608.0 C711.2 605.8 708.2 602.2 707.0 601.0 L708.5 600.0 C709.8 600.9 713.2 603.8 716.0 605.6 C718.8 607.4 721.3 609.7 725.0 611.0 C728.7 612.3 733.8 613.6 738.0 613.6 C742.2 613.6 746.6 612.6 750.0 611.0 C753.4 609.4 756.1 607.0 758.6 604.0 C761.1 601.0 763.5 597.0 765.0 593.0 C766.5 589.0 767.3 583.7 767.6 580.0 C767.9 576.3 767.8 574.7 767.0 571.0 C766.2 567.3 765.2 562.4 763.0 558.0 C760.8 553.6 757.3 548.1 754.0 544.4 C750.7 540.7 747.0 537.6 743.0 535.6 C739.0 533.6 734.3 532.6 730.0 532.3 C725.7 532.0 721.1 532.5 717.0 534.0 C712.9 535.5 708.6 538.4 705.5 541.5 C702.4 544.6 700.2 548.4 698.5 552.5 C696.8 556.6 695.6 563.8 695.0 566.0 Z"/>
<path class="gw" style="stroke:#5c5c5c;stroke-width:1.5" d="M708.0 564.0 C709.7 563.8 714.8 561.7 718.0 563.0 C721.2 564.3 725.2 568.5 727.0 572.0 C728.8 575.5 729.2 580.3 729.0 584.0 C728.8 587.7 727.8 591.4 726.0 594.0 C724.2 596.6 719.7 598.6 718.0 599.4 C716.3 600.2 716.3 599.1 716.0 599.0"/>
<path class="g" style="stroke:#5c5c5c;stroke-width:1.5" d="M714 566 L722 566.5 M717 574 L726 574 M718 583 L728 583 M716 592 L726 592 M717 570 L719 577 M720 579 L720 587"/>
<path class="gw" style="stroke:#5c5c5c;stroke-width:1.5" d="M691.0 582.0 C691.0 579.4 693.0 572.1 695.0 570.0 C697.0 567.9 706.0 564.0 708.0 564.0 C710.0 564.0 711.1 568.1 712.0 570.0 C712.9 571.9 715.8 577.7 716.0 580.0 C716.2 582.3 714.0 587.8 714.0 590.0 C714.0 592.2 717.2 597.8 716.0 599.0 C714.8 600.2 706.5 600.8 704.0 600.0 C701.5 599.2 696.5 594.1 695.0 592.0 C693.5 589.9 691.0 584.6 691.0 582.0 Z"/>
<!--/P4-->
</g>
<path class="fr" d="M555.5 525 Q555.5 509 571 509 L954 513 Q970.4 513 970.4 529 L970.4 805 Q970.4 821.5 954 821.5 L840 821.5 L573 816.5 Q555.5 816 555.5 799 Z"/>
</g>

<!-- ================= TEXT ================= -->
<g class="t">
<text x="26.25" y="422" textLength="410" lengthAdjust="spacing">1.Choose The Clear Soft Cloth To</text>
<text x="53.75" y="456.25" textLength="356" lengthAdjust="spacing">Erase The Dust, Confirm The</text>
<text x="58.75" y="491" textLength="306.5" lengthAdjust="spacing">Adsorbed Surface Is Dry.</text>

<text x="563.75" y="428" textLength="386" lengthAdjust="spacing">2.Rotate The Product Nut, Take</text>
<text x="593" y="462.5" textLength="64.5" lengthAdjust="spacing">It Off.</text>

<text x="24" y="865.5" textLength="424.5" lengthAdjust="spacing">3.Extrusion The Air Of The Suction</text>
<text x="45" y="894" textLength="445.5" lengthAdjust="spacing">Cup ,Instal The Suction Cup In Turn,</text>
<text x="46" y="922.5" textLength="360" lengthAdjust="spacing">Nut Rotate Clockwise Tightly.</text>

<text x="562.5" y="864" textLength="399.5" lengthAdjust="spacing">4.Check Whether The Product Is</text>
<text x="592.5" y="893.2" textLength="376.5" lengthAdjust="spacing">Firm After Installation.Suggest</text>
<text x="592.5" y="922" textLength="352" lengthAdjust="spacing">Put The Tissue 2 Hours later.</text>
</g>
</svg>
</body></html>
